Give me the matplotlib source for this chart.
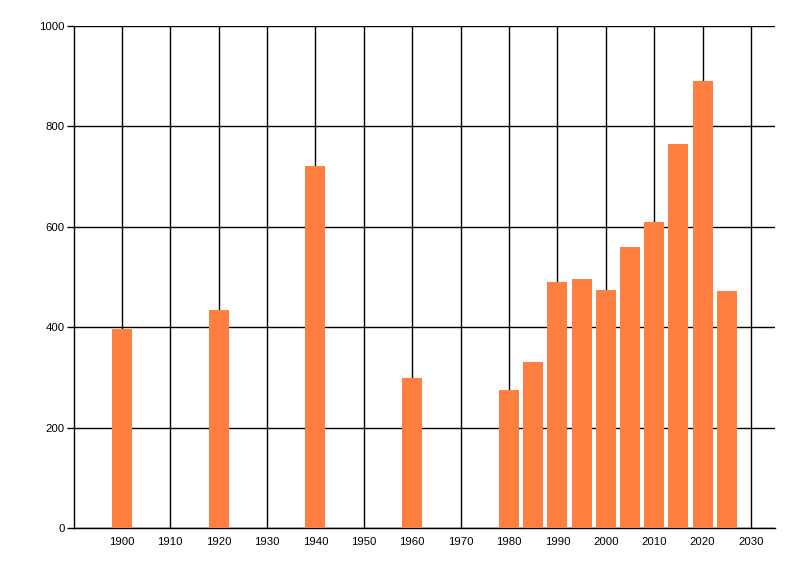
import matplotlib
matplotlib.use("Agg")
import matplotlib.pyplot as plt

years = [1900, 1920, 1940, 1960, 1980, 1985, 1990, 1995, 2000, 2005, 2010, 2015, 2020, 2025]
values = [396, 434, 722, 300, 276, 330, 490, 496, 474, 560, 610, 764, 890, 472]
x_ticks = list(range(1900, 2031, 10))
y_ticks = list(range(0, 1001, 200))

fig = plt.figure(figsize=(8, 5.76), dpi=100)
ax = fig.add_axes([0.093, 0.083, 0.876, 0.872])

ax.bar(years, values, width=4.1, color="#FF7F40", zorder=3)

ax.set_xlim(1890.2, 2035)
ax.set_ylim(0, 1000)
ax.set_xticks(x_ticks)
ax.set_yticks(y_ticks)
ax.grid(True, color="black", linewidth=1, zorder=1)

for side in ["top", "right"]:
    ax.spines[side].set_visible(False)
for side in ["left", "bottom"]:
    ax.spines[side].set_linewidth(1)

ax.tick_params(axis="x", length=0, pad=6, labelsize=8.2)
ax.tick_params(axis="y", length=5, width=1, pad=2, labelsize=8.2)
for lbl in ax.get_xticklabels() + ax.get_yticklabels():
    lbl.set_fontfamily("Liberation Sans")

fig.savefig("out.png", dpi=100)
